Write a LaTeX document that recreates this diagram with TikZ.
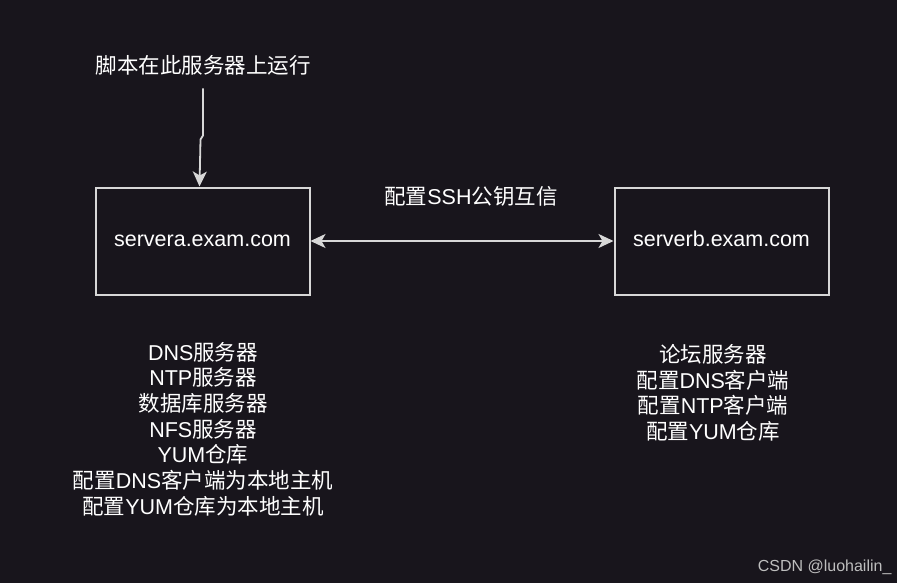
\documentclass[tikz,border=0pt]{standalone}
\usepackage{fontspec}
\setmainfont{Liberation Sans}
\newfontfamily\cjk{Noto Sans CJK SC}
\usetikzlibrary{arrows.meta,positioning}
\definecolor{bgdark}{RGB}{24,21,28}
\definecolor{linegray}{RGB}{215,215,215}
\definecolor{markgray}{RGB}{190,190,190}
\tikzset{srvtip/.tip={Stealth[length=15pt,width=14pt,inset=4pt]}}
\begin{document}
\begin{tikzpicture}[x=1pt,y=-1pt,
  srv/.style={draw=linegray,line width=2pt,minimum width=214pt,minimum height=107pt,text=white,text height=15.5pt,text depth=4.5pt,font=\fontsize{21.5}{25.7}\selectfont},
  lbl/.style={text=white,align=center,font=\fontsize{21.5}{25.7}\selectfont},
  conn/.style={draw=linegray,line width=1.8pt,-srvtip}]
\def\W{897} \def\H{583}
\fill[bgdark] (0,0) rectangle (\W,\H);
\useasboundingbox (0,0) rectangle (\W,\H);

\node[lbl] (run) at (203,65) {\cjk 脚本在此服务器上运行};
\node[srv] (sa) at (202.5,241) {servera.exam.com};
\node[srv] (sb) at (721.5,241) {serverb.exam.com};
\node[lbl] (ssh) at (471,196) {{\cjk 配置}SSH{\cjk 公钥互信}};
\node[lbl] (lista) at (203,429) {DNS{\cjk 服务器}\\NTP{\cjk 服务器}\\{\cjk 数据库服务器}\\NFS{\cjk 服务器}\\YUM{\cjk 仓库}\\{\cjk 配置}DNS{\cjk 客户端为本地主机}\\{\cjk 配置}YUM{\cjk 仓库为本地主机}};
\node[lbl] (listb) at (713,393) {{\cjk 论坛服务器}\\{\cjk 配置}DNS{\cjk 客户端}\\{\cjk 配置}NTP{\cjk 客户端}\\{\cjk 配置}YUM{\cjk 仓库}};
\node[text=markgray,font=\fontsize{16}{19}\selectfont,anchor=east] (mark) at (895,567) {CSDN @luohailin\_};

\draw[conn] ([yshift=-10pt]run.south) -- ++(0,47) -- ++(-2.5,4) -- ([xshift=-3pt]sa.north);
\draw[conn,srvtip-srvtip] (sa) -- (sb);
\end{tikzpicture}
\end{document}
